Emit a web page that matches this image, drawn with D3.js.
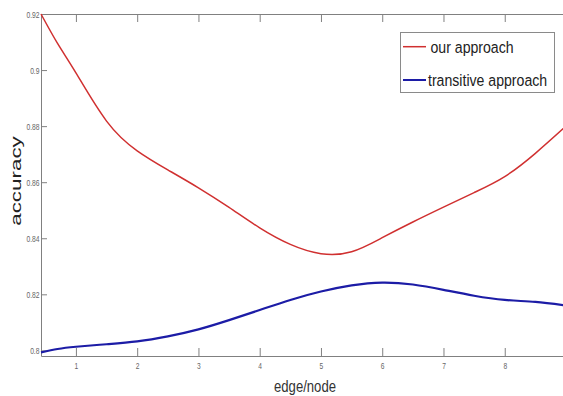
<!DOCTYPE html>
<html>
<head>
<meta charset="utf-8">
<script src="https://cdn.jsdelivr.net/npm/d3@7"></script>
<style>
  html, body { margin: 0; padding: 0; background: #fff; }
  svg { display: block; }
</style>
</head>
<body>
<div id="chart"></div>
<script>
// data
const edgeNode = [0.43, 0.7, 1, 1.5, 2, 2.5, 3, 3.5, 4, 4.5, 5, 5.5, 6, 6.5, 7, 7.5, 8, 8.5, 9];
const ourApproach = [0.920, 0.9095, 0.899, 0.8818, 0.8712, 0.8644, 0.8580, 0.8510, 0.8437, 0.8378,
  0.8345, 0.8352, 0.8402, 0.8458, 0.8511, 0.8563, 0.8620, 0.8703, 0.8800];
const transitiveApproach = [0.7993, 0.8005, 0.8013, 0.8022, 0.8032, 0.8050, 0.8075, 0.8108, 0.8144, 0.8180,
  0.8210, 0.8232, 0.8242, 0.8235, 0.8216, 0.8195, 0.8180, 0.8173, 0.8160];
const xTicks = [1, 2, 3, 4, 5, 6, 7, 8];
const yTicks = [0.8, 0.82, 0.84, 0.86, 0.88, 0.9, 0.92];
const seriesNames = ['our approach', 'transitive approach'];
const seriesColors = ['#d03030', '#1c1ca6'];

const width = 563, height = 396;
const plotLeft = 41, plotTop = 14, plotBottom = 356, plotRight = 566;

const svg = d3.select('#chart').append('svg')
  .attr('width', width)
  .attr('height', height);

const x = d3.scaleLinear().domain([0.43, 9]).range([plotLeft, plotRight]);
const y = d3.scaleLinear().domain([0.798, 0.92]).range([plotBottom, plotTop]);

const axisColor = '#808080';
const font = '"Liberation Sans", Arial, sans-serif';

// bottom axis, ticks pointing inward
const gx = svg.append('g')
  .attr('transform', 'translate(0,' + plotBottom + ')')
  .call(d3.axisBottom(x).tickValues(xTicks).tickFormat(d3.format('d'))
    .tickSizeInner(-8).tickSizeOuter(0).tickPadding(6));

// top axis, no labels
const gt = svg.append('g')
  .attr('transform', 'translate(0,' + plotTop + ')')
  .call(d3.axisTop(x).tickValues(xTicks).tickFormat('')
    .tickSizeInner(-8).tickSizeOuter(0));

// left axis
const gy = svg.append('g')
  .attr('transform', 'translate(' + plotLeft + ',0)')
  .call(d3.axisLeft(y).tickValues(yTicks).tickFormat(d => String(+d.toFixed(2)))
    .tickSizeInner(-6).tickSizeOuter(0).tickPadding(2));

[gx, gt, gy].forEach(g => {
  g.select('.domain').attr('stroke', axisColor);
  g.selectAll('.tick line').attr('stroke', axisColor);
  g.selectAll('text').attr('fill', '#666').style('font-family', font);
});
// the source figure is squeezed sideways, so the labels are narrow
gx.selectAll('text').style('font-size', '9.5px').attr('transform', 'scale(0.7,1)');
gy.selectAll('text').style('font-size', '9px').attr('dy', '0.35em').attr('transform', 'scale(0.75,1)');

// curves
const line = d3.line()
  .x((d, i) => x(edgeNode[i]))
  .y(d => y(d))
  .curve(d3.curveNatural);

svg.append('path')
  .datum(transitiveApproach)
  .attr('fill', 'none')
  .attr('stroke', seriesColors[1])
  .attr('stroke-width', 2.2)
  .attr('d', line);

svg.append('path')
  .datum(ourApproach)
  .attr('fill', 'none')
  .attr('stroke', seriesColors[0])
  .attr('stroke-width', 1.5)
  .attr('d', line);

// axis titles
svg.append('text')
  .attr('transform', 'translate(305,391.5) scale(0.82,1)')
  .attr('text-anchor', 'middle')
  .style('font-family', font)
  .style('font-size', '16px')
  .attr('fill', '#333')
  .text('edge/node');

svg.append('text')
  .attr('transform', 'translate(20.7,181) rotate(-90) scale(1.6,1)')
  .attr('text-anchor', 'middle')
  .style('font-family', font)
  .style('font-size', '14px')
  .attr('fill', '#222')
  .text('accuracy');

// legend
const legend = svg.append('g');
legend.append('rect')
  .attr('x', 400.5).attr('y', 32.5)
  .attr('width', 154).attr('height', 60)
  .attr('fill', '#fff')
  .attr('stroke', '#8a8a8a')
  .attr('stroke-width', 1);

const rowY = [46.7, 80];
const textX = [430.5, 428];
seriesNames.forEach((name, i) => {
  legend.append('line')
    .attr('x1', 403).attr('x2', 426)
    .attr('y1', rowY[i]).attr('y2', rowY[i])
    .attr('stroke', seriesColors[i])
    .attr('stroke-width', i === 0 ? 1.5 : 2);
  legend.append('text')
    .attr('transform', 'translate(' + textX[i] + ',' + rowY[i] + ') scale(0.83,1)')
    .attr('dy', '0.36em')
    .style('font-family', font)
    .style('font-size', '17px')
    .attr('fill', '#222')
    .text(name);
});
</script>
</body>
</html>
